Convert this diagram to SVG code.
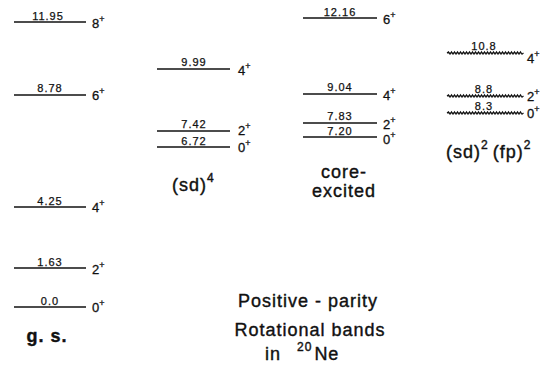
<svg xmlns="http://www.w3.org/2000/svg" width="548" height="366" viewBox="0 0 548 366">
<defs>
<style>
.lvl{stroke:#111;stroke-width:1.6;fill:none}
.wav{stroke:#111;stroke-width:1.1;fill:none}
.e{font-family:"Liberation Sans","DejaVu Sans",sans-serif;font-size:11px;fill:#111;stroke:#111;stroke-width:0.25;text-anchor:middle;letter-spacing:1px}
.j{font-family:"Liberation Sans","DejaVu Sans",sans-serif;font-size:13px;fill:#111;stroke:#111;stroke-width:0.3}
.j tspan{font-size:9px}
.lab{font-family:"Liberation Sans","DejaVu Sans",sans-serif;font-size:18px;fill:#111;stroke:#111;stroke-width:0.4;letter-spacing:1px}
.lab tspan.s{font-size:12px}
</style>
<path id="wave" class="wav" d="M0 0 h74 M0 0 l1.5 -1.2 l1.5 2.4 l1.5 -2.4 l1.5 2.4 l1.5 -2.4 l1.5 2.4 l1.5 -2.4 l1.5 2.4 l1.5 -2.4 l1.5 2.4 l1.5 -2.4 l1.5 2.4 l1.5 -2.4 l1.5 2.4 l1.5 -2.4 l1.5 2.4 l1.5 -2.4 l1.5 2.4 l1.5 -2.4 l1.5 2.4 l1.5 -2.4 l1.5 2.4 l1.5 -2.4 l1.5 2.4 l1.5 -2.4 l1.5 2.4 l1.5 -2.4 l1.5 2.4 l1.5 -2.4 l1.5 2.4 l1.5 -2.4 l1.5 2.4 l1.5 -2.4 l1.5 2.4 l1.5 -2.4 l1.5 2.4 l1.5 -2.4 l1.5 2.4 l1.5 -2.4 l1.5 2.4 l1.5 -2.4 l1.5 2.4 l1.5 -2.4 l1.5 2.4 l1.5 -2.4 l1.5 2.4 l1.5 -2.4 l1.5 2.4 l1.5 -2.4 l1.5 2.4 l1.5 -1.2"/>
</defs>
<rect width="548" height="366" fill="#fff"/>

<g id="band-gs">
<line class="lvl" x1="14" y1="22" x2="86" y2="22"/>
<text class="e" x="48" y="20">11.95</text>
<text class="j" x="92" y="28">8<tspan dy="-6">+</tspan></text>
<line class="lvl" x1="14" y1="95" x2="86" y2="95"/>
<text class="e" x="50" y="92">8.78</text>
<text class="j" x="92" y="100">6<tspan dy="-6">+</tspan></text>
<line class="lvl" x1="14" y1="207" x2="86" y2="207"/>
<text class="e" x="50" y="205">4.25</text>
<text class="j" x="92" y="212">4<tspan dy="-6">+</tspan></text>
<line class="lvl" x1="14" y1="268" x2="86" y2="268"/>
<text class="e" x="50" y="266">1.63</text>
<text class="j" x="92" y="274">2<tspan dy="-6">+</tspan></text>
<line class="lvl" x1="14" y1="307" x2="86" y2="307"/>
<text class="e" x="50" y="305">0.0</text>
<text class="j" x="92" y="312">0<tspan dy="-6">+</tspan></text>
<text class="lab" x="47" y="342" text-anchor="middle" font-weight="bold" font-size="15" letter-spacing="0">g. s.</text>
</g>

<g id="band-sd4">
<line class="lvl" x1="157" y1="69" x2="230" y2="69"/>
<text class="e" x="194" y="66">9.99</text>
<text class="j" x="238" y="75">4<tspan dy="-6">+</tspan></text>
<line class="lvl" x1="157" y1="131" x2="230" y2="131"/>
<text class="e" x="194" y="128">7.42</text>
<text class="j" x="238" y="135">2<tspan dy="-6">+</tspan></text>
<line class="lvl" x1="157" y1="147" x2="230" y2="147"/>
<text class="e" x="194" y="145">6.72</text>
<text class="j" x="238" y="152">0<tspan dy="-6">+</tspan></text>
<text class="lab" x="172" y="191">(sd)<tspan class="s" dy="-9">4</tspan></text>
</g>

<g id="band-core">
<line class="lvl" x1="303" y1="18" x2="377" y2="18"/>
<text class="e" x="340" y="16">12.16</text>
<text class="j" x="383" y="24">6<tspan dy="-6">+</tspan></text>
<line class="lvl" x1="303" y1="94" x2="377" y2="94"/>
<text class="e" x="340" y="91">9.04</text>
<text class="j" x="383" y="100">4<tspan dy="-6">+</tspan></text>
<line class="lvl" x1="303" y1="123" x2="377" y2="123"/>
<text class="e" x="340" y="120">7.83</text>
<text class="j" x="383" y="129">2<tspan dy="-6">+</tspan></text>
<line class="lvl" x1="303" y1="137" x2="377" y2="137"/>
<text class="e" x="340" y="135">7.20</text>
<text class="j" x="383" y="144">0<tspan dy="-6">+</tspan></text>
<text class="lab" x="344" y="178" text-anchor="middle" font-size="14" letter-spacing="0.5">core-</text>
<text class="lab" x="344" y="197" text-anchor="middle" font-size="14" letter-spacing="0.5">excited</text>
</g>

<g id="band-sdfp">
<use href="#wave" x="447" y="53"/>
<text class="e" x="484" y="50">10.8</text>
<text class="j" x="527" y="63">4<tspan dy="-6">+</tspan></text>
<use href="#wave" x="447" y="96"/>
<text class="e" x="484" y="93">8.8</text>
<text class="j" x="527" y="101">2<tspan dy="-6">+</tspan></text>
<use href="#wave" x="447" y="113"/>
<text class="e" x="484" y="110">8.3</text>
<text class="j" x="527" y="118">0<tspan dy="-6">+</tspan></text>
<text class="lab" x="446" y="158">(sd)<tspan class="s" dy="-9">2</tspan><tspan dy="9" dx="4">(fp)</tspan><tspan class="s" dy="-9">2</tspan></text>
</g>

<g id="connectors"></g>

<g id="title">
<text class="lab" x="308" y="307" text-anchor="middle">Positive - parity</text>
<text class="lab" x="310" y="336" text-anchor="middle">Rotational bands</text>
<text class="lab" x="265" y="360">in <tspan class="s" dx="10" dy="-9">20</tspan><tspan dx="2" dy="9">Ne</tspan></text>
</g>
</svg>
